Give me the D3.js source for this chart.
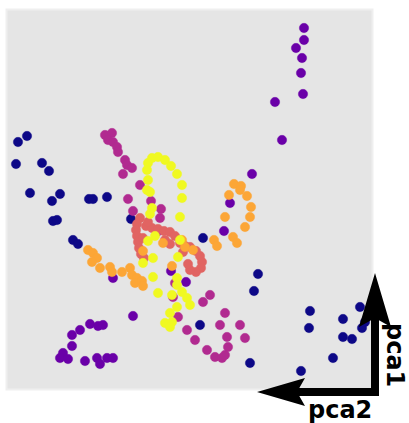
<!DOCTYPE html>
<html><head><meta charset="utf-8">
<script src="https://cdn.jsdelivr.net/npm/d3@7"></script>
<style>html,body{margin:0;padding:0;background:#fff;}svg{display:block;}</style>
</head><body>
<svg id="c" width="409" height="423"></svg>
<script>
// group labels (plasma colour steps) and axis labels
const groups = ["g0","g1","g2","g3","g4","g5"];
const groupColors = ["#0d0887","#6a00a8","#b12a90","#e16462","#fca636","#f0f921"];
const axisLabels = ["pca1","pca2"];

// values: [pca2-ish x, pca1-ish y] in panel units
const g0 = [[18,142],[27,136],[16,164],[42,163],[49,171],[30,193],[52,201],[60,194],[89,199],[93,199],[107,197],
  [53,221],[57,220],[73,240],[78,244],[131,219],[203,238],[258,274],[254,291],[250,363],[200,325],
  [310,311],[309,328],[343,319],[360,307],[365,322],[362,328],[343,337],[352,339],[333,358],[301,371]];
const g1 = [[304,28],[304,40],[296,48],[302,58],[301,73],[303,94],[275,102],[282,140],[252,174],[230,203],[224,231],
  [113,278],[133,316],[90,324],[98,326],[103,325],[80,330],[72,335],[72,346],[63,353],[60,358],[68,359],
  [85,361],[97,358],[100,364],[107,358],[113,358],[186,282],[171,271]];
const g2 = [[105,135],[112,133],[108,140],[113,142],[117,147],[118,152],[125,160],[127,165],[132,168],[123,174],
  [140,185],[128,199],[151,201],[133,211],[161,209],[160,218],[157,232],[175,283],
  [173,297],[178,317],[187,330],[195,340],[207,350],[215,357],[222,358],[225,355],[228,347],[227,337],
  [220,325],[225,313],[240,325],[245,338],[203,302],[210,295]];
const g3 = [[140,218],[137,224],[136,230],[137,236],[138,242],[139,248],[141,254],[144,258],[146,226],[152,228],
  [158,229],[164,231],[170,232],[175,236],[165,240],[170,244],[180,243],[185,246],[190,247],[196,251],
  [200,256],[202,262],[201,268],[196,272],[190,270],[188,264],[183,252],[148,222],[143,238]];
const g4 = [[234,184],[241,186],[229,195],[247,196],[251,207],[250,217],[245,227],[225,217],[240,190],
  [214,240],[217,246],[233,237],[237,243],[88,250],[93,253],[97,258],[92,262],[100,268],[110,267],[112,272],
  [122,272],[130,268],[132,275],[137,278],[135,283],[142,281],[143,286],[143,251],[163,243],[172,266],
  [182,240],[185,247],[193,250]];
const g5 = [[148,163],[152,158],[158,157],[165,160],[171,166],[177,174],[182,185],[182,198],[180,217],
  [147,170],[148,180],[147,190],[150,192],[152,208],[150,214],[148,241],[155,236],[143,263],[153,258],
  [153,277],[158,293],[180,240],[178,257],[177,278],[177,285],[182,292],[172,295],[187,298],[190,305],
  [177,307],[170,313],[165,323],[172,322],[170,327]];
const seriesList = [g0,g1,g2,g3,g4,g5];

const svg = d3.select("#c");
const panel = {x0:7, y0:10, x1:372, y1:389};
const x = d3.scaleLinear().domain([7,372]).range([panel.x0, panel.x1]);
const y = d3.scaleLinear().domain([10,389]).range([panel.y0, panel.y1]);

svg.append("rect").attr("x",panel.x0-0.5).attr("y",panel.y0-0.5)
  .attr("width",panel.x1-panel.x0+1).attr("height",panel.y1-panel.y0+1)
  .attr("fill","#e5e5e5").attr("stroke","#efefef").attr("stroke-width",2);

seriesList.forEach((s,i)=>{
  svg.append("g").selectAll("circle").data(s).join("circle")
    .attr("cx",d=>x(d[0])).attr("cy",d=>y(d[1])).attr("r",4.7)
    .attr("fill",groupColors[i]).attr("stroke",groupColors[i]).attr("stroke-opacity",0.5).attr("stroke-width",0.8);
});

// arrows
const ax = 375, ay = 392;
const ag = svg.append("g").attr("fill","#000");
ag.append("rect").attr("x",ax-4).attr("y",305).attr("width",8).attr("height",ay+4-305);
ag.append("rect").attr("x",290).attr("y",ay-4).attr("width",ax+4-290).attr("height",8);
ag.append("path").attr("d",`M${ax},273 L${ax+16},327 L${ax},318 L${ax-16},327 Z`);
ag.append("path").attr("d",`M257,${ay} L305,${ay-14} L297,${ay} L305,${ay+14} Z`);

const font = "DejaVu Sans, Liberation Sans, sans-serif";
svg.append("text").attr("x",308).attr("y",418)
  .attr("font-family",font).attr("font-weight","bold")
  .attr("font-size",24).attr("fill","#000").text(axisLabels[1]);
svg.append("text").attr("transform","translate(387,323) rotate(90)")
  .attr("font-family",font).attr("font-weight","bold")
  .attr("font-size",24).attr("fill","#000").text(axisLabels[0]);
</script>
</body></html>
